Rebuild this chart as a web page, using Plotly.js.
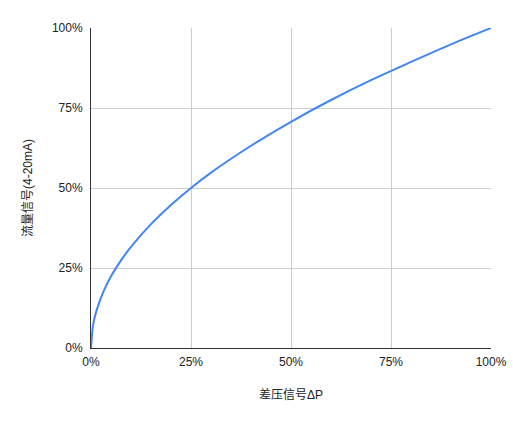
<!DOCTYPE html>
<html>
<head>
<meta charset="utf-8">
<script src="https://cdn.plot.ly/plotly-3.0.1.min.js"></script>
<style>html,body{margin:0;padding:0;background:#fff;}#chart{width:513px;height:421px;}</style>
</head>
<body>
<div id="chart"></div>
<script>
// differential pressure signal (fraction of span)
const dpSignal = [0, 0.005, 0.01, 0.02, 0.03, 0.05, 0.075, 0.1, 0.15, 0.2, 0.25, 0.3, 0.4, 0.5, 0.6, 0.7, 0.8, 0.9, 1.0];
// flow signal (fraction of span)
const flowSignal = [0, 0.07, 0.1, 0.14, 0.173, 0.224, 0.274, 0.316, 0.387, 0.447, 0.5, 0.548, 0.632, 0.707, 0.775, 0.837, 0.894, 0.949, 1.0];
const tickVals = [0, 0.25, 0.5, 0.75, 1];
const tickLabels = ['0%', '25%', '50%', '75%', '100%'];
const xTitle = '差压信号ΔP';
const yTitle = '流量信号(4-20mA)';

const font = "Arial, 'Liberation Sans', 'Noto Sans CJK SC', sans-serif";

Plotly.newPlot('chart', [{
  x: dpSignal,
  y: flowSignal,
  mode: 'lines',
  line: {color: '#4285F4', width: 2, shape: 'spline', smoothing: 1},
  hoverinfo: 'none'
}], {
  width: 513, height: 421,
  margin: {l: 91, r: 22, t: 28, b: 73},
  paper_bgcolor: '#fff', plot_bgcolor: '#fff',
  showlegend: false,
  font: {family: font, size: 12, color: '#222'},
  xaxis: {
    range: [0, 1], tickvals: tickVals, ticktext: tickLabels,
    showgrid: true, gridcolor: '#cccccc', gridwidth: 1,
    showline: true, linecolor: '#333', linewidth: 1,
    zeroline: false, ticks: '', ticklen: 0, ticklabelstandoff: 3,
    tickfont: {family: font, size: 12, color: '#222'},
    title: {text: xTitle, font: {family: font, size: 12, color: '#222'}, standoff: 22}
  },
  yaxis: {
    range: [0, 1], tickvals: tickVals, ticktext: tickLabels,
    showgrid: true, gridcolor: '#cccccc', gridwidth: 1,
    showline: true, linecolor: '#333', linewidth: 1,
    zeroline: false, ticks: '', ticklen: 0, ticklabelstandoff: 5,
    tickfont: {family: font, size: 12, color: '#222'},
    title: {text: yTitle, font: {family: font, size: 12, color: '#222'}, standoff: 16}
  }
}, {staticPlot: true, displayModeBar: false});
</script>
</body>
</html>
